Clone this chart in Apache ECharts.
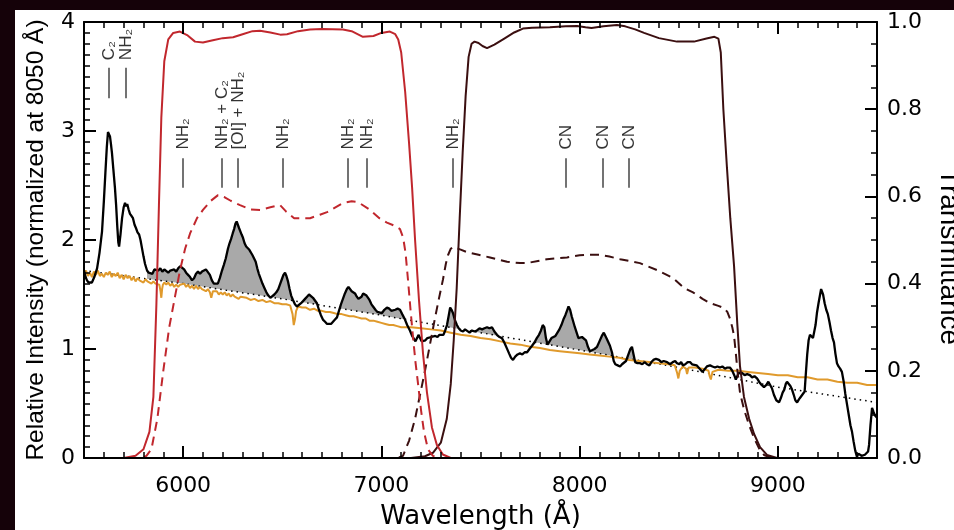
<!DOCTYPE html>
<html>
<head>
<meta charset="utf-8">
<script src="https://cdn.jsdelivr.net/npm/echarts@6/dist/echarts.min.js"></script>
<style>
html,body{margin:0;padding:0;background:#150209;width:954px;height:530px;overflow:hidden;}
#chart{position:absolute;left:15px;top:10px;width:939px;height:520px;background:#fff;}
</style>
</head>
<body>
<div id="chart"></div>
<script>
// comet spectrum, [wavelength (A), relative intensity]
const cometSpectrum = [
 [5500,1.72],[5508,1.66],[5515,1.63],[5523,1.61],[5530,1.60],[5540,1.61],[5552,1.66],[5566,1.74],[5578,1.88],[5591,2.08],
 [5600,2.35],[5608,2.62],[5615,2.85],[5621,2.99],[5626,3.00],[5631,2.95],[5636,2.88],[5641,2.80],[5648,2.65],[5656,2.48],
 [5662,2.32],[5668,2.12],[5673,1.98],[5677,1.94],[5684,2.05],[5692,2.20],[5700,2.30],[5707,2.34],[5712,2.31],[5718,2.33],
 [5725,2.28],[5732,2.24],[5740,2.22],[5747,2.20],[5755,2.14],[5762,2.11],[5770,2.07],[5778,2.05],[5785,2.00],[5792,1.93],
 [5800,1.85],[5808,1.78],[5818,1.72],[5826,1.70],[5835,1.71],[5845,1.69],[5855,1.73],[5865,1.74],[5875,1.72],[5885,1.74],
 [5895,1.71],[5905,1.73],[5915,1.72],[5925,1.70],[5935,1.72],[5945,1.71],[5955,1.73],[5965,1.71],[5975,1.74],[5985,1.76],
 [5994,1.77],[6005,1.73],[6015,1.70],[6025,1.68],[6035,1.66],[6045,1.63],[6055,1.65],[6065,1.69],[6075,1.71],[6085,1.69],
 [6095,1.71],[6105,1.70],[6115,1.73],[6125,1.72],[6135,1.68],[6145,1.63],[6155,1.60],[6165,1.59],[6175,1.60],[6185,1.65],
 [6196,1.72],[6205,1.77],[6215,1.83],[6226,1.92],[6234,1.97],[6242,2.01],[6250,2.06],[6257,2.10],[6264,2.15],[6270,2.17],
 [6276,2.14],[6282,2.11],[6289,2.10],[6295,2.05],[6302,2.02],[6310,1.97],[6318,1.94],[6326,1.95],[6334,1.91],[6342,1.90],
 [6350,1.86],[6358,1.83],[6366,1.80],[6374,1.74],[6382,1.69],[6390,1.65],[6400,1.60],[6410,1.56],[6420,1.52],[6430,1.49],
 [6440,1.47],[6450,1.48],[6460,1.50],[6470,1.52],[6480,1.55],[6490,1.60],[6498,1.64],[6506,1.68],[6514,1.70],[6521,1.67],
 [6529,1.62],[6537,1.55],[6545,1.49],[6554,1.45],[6564,1.41],[6574,1.39],[6584,1.40],[6595,1.42],[6605,1.43],[6615,1.46],
 [6625,1.48],[6635,1.50],[6645,1.49],[6655,1.47],[6665,1.47],[6675,1.42],[6685,1.36],[6695,1.31],[6705,1.27],[6716,1.25],
 [6726,1.23],[6736,1.24],[6746,1.23],[6756,1.25],[6766,1.27],[6776,1.29],[6786,1.35],[6796,1.41],[6806,1.46],[6816,1.51],
 [6826,1.55],[6834,1.57],[6842,1.56],[6850,1.53],[6858,1.54],[6867,1.51],[6876,1.48],[6884,1.46],[6892,1.45],[6900,1.48],
 [6908,1.51],[6917,1.52],[6925,1.49],[6932,1.48],[6940,1.45],[6950,1.41],[6958,1.39],[6970,1.36],[6980,1.34],[6990,1.35],
 [7003,1.33],[7015,1.36],[7028,1.38],[7040,1.37],[7050,1.35],[7059,1.34],[7070,1.36],[7082,1.37],[7094,1.36],[7105,1.32],
 [7119,1.27],[7130,1.22],[7144,1.17],[7155,1.12],[7165,1.09],[7172,1.07],[7180,1.10],[7187,1.13],[7195,1.10],[7203,1.07],
 [7212,1.06],[7222,1.08],[7232,1.10],[7242,1.09],[7252,1.11],[7262,1.10],[7272,1.12],[7283,1.11],[7293,1.13],[7303,1.12],
 [7313,1.13],[7322,1.17],[7331,1.22],[7340,1.31],[7347,1.38],[7354,1.36],[7361,1.33],[7370,1.27],[7381,1.22],[7390,1.19],
 [7400,1.17],[7412,1.16],[7422,1.18],[7432,1.17],[7445,1.15],[7457,1.17],[7470,1.16],[7482,1.17],[7495,1.19],[7508,1.18],
 [7520,1.19],[7533,1.20],[7545,1.19],[7558,1.20],[7570,1.16],[7583,1.13],[7596,1.11],[7608,1.10],[7620,1.06],[7632,1.01],
 [7644,0.96],[7654,0.92],[7664,0.90],[7675,0.93],[7687,0.95],[7699,0.96],[7711,0.95],[7723,0.97],[7735,0.97],[7747,1.00],
 [7760,1.03],[7772,1.06],[7784,1.10],[7795,1.13],[7805,1.17],[7814,1.22],[7822,1.20],[7830,1.10],[7838,1.04],[7848,1.07],
 [7858,1.10],[7868,1.11],[7878,1.12],[7888,1.15],[7898,1.18],[7908,1.22],[7918,1.27],[7928,1.31],[7936,1.35],[7944,1.39],
 [7952,1.36],[7960,1.30],[7968,1.25],[7976,1.20],[7985,1.15],[7994,1.10],[8002,1.09],[8012,1.11],[8022,1.12],[8032,1.08],
 [8042,1.02],[8052,0.98],[8062,0.99],[8075,1.00],[8088,1.02],[8100,1.07],[8112,1.12],[8122,1.15],[8130,1.14],[8138,1.09],
 [8145,1.08],[8153,1.03],[8163,0.97],[8172,0.89],[8180,0.86],[8192,0.85],[8204,0.84],[8214,0.86],[8224,0.87],[8234,0.89],
 [8246,0.95],[8256,1.00],[8264,1.02],[8272,0.95],[8280,0.88],[8292,0.87],[8304,0.87],[8316,0.86],[8328,0.88],[8340,0.86],
 [8352,0.85],[8362,0.88],[8372,0.90],[8385,0.91],[8400,0.90],[8412,0.88],[8424,0.89],[8441,0.88],[8456,0.86],[8470,0.88],
 [8482,0.89],[8491,0.87],[8503,0.86],[8512,0.88],[8521,0.85],[8533,0.86],[8545,0.88],[8557,0.88],[8567,0.86],[8577,0.87],
 [8590,0.85],[8600,0.83],[8610,0.81],[8620,0.79],[8630,0.80],[8642,0.84],[8658,0.85],[8670,0.84],[8683,0.83],[8695,0.84],
 [8708,0.83],[8720,0.84],[8733,0.82],[8745,0.83],[8758,0.83],[8770,0.80],[8780,0.76],[8788,0.72],[8794,0.73],[8802,0.78],
 [8809,0.79],[8820,0.78],[8832,0.76],[8845,0.77],[8859,0.76],[8870,0.74],[8882,0.75],[8895,0.73],[8905,0.70],[8918,0.67],
 [8930,0.65],[8942,0.67],[8952,0.70],[8960,0.69],[8970,0.64],[8980,0.58],[8992,0.53],[9006,0.51],[9015,0.55],[9024,0.60],
 [9033,0.63],[9040,0.68],[9046,0.70],[9055,0.69],[9063,0.66],[9071,0.63],[9080,0.58],[9088,0.53],[9097,0.51],[9107,0.54],
 [9115,0.56],[9125,0.57],[9135,0.61],[9142,0.80],[9148,0.95],[9155,1.08],[9162,1.13],[9170,1.12],[9177,1.10],[9182,1.11],
 [9190,1.22],[9197,1.33],[9205,1.42],[9213,1.50],[9218,1.55],[9222,1.56],[9228,1.50],[9236,1.42],[9244,1.36],[9252,1.32],
 [9260,1.25],[9268,1.17],[9276,1.10],[9283,1.06],[9290,0.96],[9298,0.87],[9306,0.84],[9314,0.82],[9323,0.79],[9332,0.70],
 [9340,0.59],[9349,0.49],[9358,0.39],[9366,0.30],[9374,0.24],[9382,0.15],[9390,0.07],[9399,0.01],[9406,0.04],[9414,0.05],
 [9422,0.02],[9430,0.03],[9439,0.03],[9447,0.02],[9455,0.06],[9460,0.12],[9467,0.30],[9475,0.46],[9483,0.42],[9490,0.39],
 [9500,0.37]
];

// scaled solar spectrum
const solarSpectrum = [
 [5500,1.69],[5510,1.72],[5520,1.67],[5530,1.70],[5540,1.66],[5550,1.71],[5560,1.68],[5570,1.72],[5580,1.67],[5590,1.69],
 [5600,1.66],[5610,1.70],[5620,1.68],[5630,1.71],[5640,1.66],[5650,1.69],[5660,1.67],[5670,1.70],[5680,1.65],[5690,1.68],
 [5700,1.64],[5710,1.68],[5720,1.65],[5730,1.67],[5740,1.63],[5750,1.66],[5760,1.62],[5770,1.65],[5780,1.63],[5790,1.64],
 [5800,1.61],[5810,1.64],[5820,1.62],[5830,1.63],[5840,1.60],[5850,1.62],[5860,1.60],[5870,1.61],[5880,1.59],[5886,1.53],
 [5890,1.47],[5894,1.55],[5898,1.59],[5905,1.61],[5915,1.59],[5925,1.61],[5935,1.58],[5945,1.60],[5955,1.57],[5965,1.59],
 [5975,1.57],[5985,1.59],[5995,1.58],[6005,1.60],[6015,1.57],[6025,1.59],[6035,1.56],[6045,1.58],[6055,1.55],[6065,1.58],
 [6075,1.55],[6085,1.57],[6095,1.55],[6105,1.56],[6115,1.53],[6125,1.55],[6135,1.52],[6142,1.47],[6150,1.53],[6160,1.52],
 [6170,1.53],[6180,1.50],[6190,1.52],[6200,1.50],[6210,1.52],[6220,1.49],[6230,1.51],[6240,1.48],[6250,1.50],[6260,1.48],
 [6270,1.49],[6280,1.46],[6290,1.48],[6300,1.47],[6320,1.47],[6340,1.45],[6360,1.46],[6380,1.44],[6400,1.45],[6420,1.43],
 [6440,1.44],[6460,1.42],[6480,1.42],[6500,1.41],[6520,1.41],[6540,1.40],[6552,1.32],[6558,1.22],[6564,1.27],[6570,1.35],
 [6580,1.39],[6600,1.38],[6620,1.38],[6640,1.36],[6660,1.37],[6680,1.35],[6700,1.35],[6720,1.34],[6740,1.34],[6760,1.33],
 [6780,1.32],[6800,1.32],[6820,1.31],[6840,1.30],[6860,1.30],[6880,1.29],[6900,1.28],[6920,1.28],[6940,1.26],[6960,1.26],
 [6980,1.25],[7000,1.24],[7020,1.23],[7040,1.22],[7060,1.22],[7080,1.21],[7100,1.20],[7150,1.20],[7200,1.19],[7250,1.18],
 [7300,1.17],[7350,1.15],[7400,1.13],[7450,1.12],[7500,1.10],[7550,1.09],[7600,1.07],[7650,1.05],[7700,1.04],[7750,1.02],
 [7800,1.01],[7850,0.99],[7900,0.98],[7950,0.97],[8000,0.96],[8050,0.95],[8100,0.94],[8150,0.93],[8200,0.92],[8250,0.90],
 [8300,0.89],[8350,0.88],[8400,0.87],[8450,0.86],[8480,0.85],[8492,0.78],[8498,0.73],[8505,0.80],[8520,0.84],[8536,0.82],
 [8542,0.77],[8550,0.83],[8580,0.83],[8620,0.82],[8650,0.80],[8656,0.75],[8662,0.72],[8670,0.79],[8700,0.81],[8750,0.80],
 [8800,0.80],[8850,0.79],[8900,0.78],[8950,0.77],[9000,0.76],[9050,0.76],[9100,0.74],[9150,0.74],[9200,0.72],[9250,0.72],
 [9300,0.70],[9350,0.69],[9400,0.69],[9450,0.67],[9500,0.67]
];

// dotted continuum
const continuum = [[5500,1.72],[5750,1.66],[6000,1.60],[6500,1.46],[7000,1.31],[7500,1.15],[8000,0.99],[8500,0.83],[9000,0.65],[9500,0.51]];
const fillRange = [5818, 8330];
const coverRange = [5750, 8500];

// filter transmittance (right axis)
const filterA = [
 [5500,0],[5700,0],[5760,0.005],[5800,0.02],[5830,0.06],[5850,0.14],[5865,0.35],[5878,0.58],[5890,0.78],[5905,0.91],
 [5925,0.96],[5950,0.975],[5984,0.978],[6020,0.97],[6060,0.955],[6100,0.953],[6150,0.958],[6200,0.963],[6252,0.965],[6300,0.972],
 [6350,0.979],[6388,0.980],[6440,0.976],[6490,0.971],[6524,0.972],[6580,0.979],[6640,0.983],[6700,0.984],[6806,0.983],[6850,0.979],
 [6907,0.966],[6960,0.968],[7000,0.975],[7043,0.978],[7070,0.972],[7085,0.96],[7100,0.93],[7120,0.84],[7140,0.72],[7155,0.62],
 [7170,0.50],[7190,0.36],[7210,0.24],[7230,0.15],[7255,0.07],[7280,0.03],[7310,0.008],[7350,0],[9500,0]
];
const filterAeff = [
 [5500,0],[5790,0],[5815,0.005],[5840,0.02],[5870,0.09],[5900,0.20],[5930,0.30],[5959,0.37],[5984,0.43],[6010,0.48],
 [6035,0.515],[6070,0.55],[6100,0.569],[6140,0.59],[6176,0.603],[6210,0.598],[6240,0.59],[6287,0.580],[6340,0.570],[6388,0.569],
 [6440,0.575],[6489,0.58],[6520,0.565],[6560,0.55],[6640,0.55],[6690,0.558],[6726,0.564],[6806,0.585],[6850,0.589],[6882,0.587],
 [6943,0.569],[6990,0.55],[7028,0.54],[7070,0.532],[7094,0.525],[7110,0.505],[7122,0.47],[7134,0.41],[7147,0.34],[7159,0.28],
 [7172,0.22],[7185,0.17],[7200,0.11],[7215,0.06],[7235,0.02],[7260,0.005],[7290,0],[9500,0]
];
const filterB = [
 [5500,0],[7150,0],[7220,0.004],[7260,0.012],[7300,0.035],[7330,0.09],[7350,0.17],[7365,0.27],[7380,0.39],[7395,0.55],
 [7410,0.70],[7425,0.83],[7440,0.92],[7455,0.95],[7470,0.955],[7490,0.952],[7510,0.945],[7533,0.94],[7570,0.948],[7620,0.962],
 [7670,0.976],[7714,0.985],[7760,0.987],[7850,0.988],[7930,0.99],[7987,0.991],[8030,0.988],[8060,0.986],[8120,0.99],[8188,0.993],
 [8230,0.99],[8280,0.983],[8325,0.975],[8400,0.963],[8491,0.955],[8577,0.955],[8640,0.962],[8680,0.966],[8700,0.962],[8712,0.93],
 [8725,0.80],[8743,0.667],[8760,0.55],[8779,0.44],[8795,0.31],[8809,0.21],[8829,0.14],[8855,0.09],[8880,0.055],[8910,0.025],
 [8945,0.007],[8996,0],[9500,0]
];
const filterBeff = [
 [5500,0],[7080,0],[7109,0.005],[7140,0.04],[7170,0.09],[7195,0.145],[7220,0.20],[7245,0.26],[7270,0.32],[7290,0.365],
 [7311,0.41],[7325,0.445],[7336,0.465],[7350,0.48],[7361,0.484],[7380,0.481],[7400,0.478],[7432,0.472],[7490,0.466],[7548,0.46],
 [7634,0.45],[7700,0.447],[7734,0.447],[7790,0.452],[7835,0.456],[7936,0.46],[8000,0.465],[8037,0.466],[8103,0.466],[8150,0.462],
 [8204,0.456],[8304,0.447],[8390,0.431],[8471,0.413],[8527,0.39],[8572,0.38],[8620,0.365],[8658,0.355],[8700,0.349],[8728,0.344],
 [8745,0.335],[8758,0.32],[8770,0.30],[8779,0.28],[8788,0.24],[8796,0.20],[8809,0.15],[8829,0.112],[8855,0.075],[8880,0.046],
 [8905,0.022],[8930,0.007],[8970,0],[9500,0]
];

// emission line identifications
const lineNames = ['C₂','NH₂','NH₂','NH₂ + C₂','[OI] + NH₂','NH₂','NH₂','NH₂','NH₂','CN','CN','CN'];
const lineWaves = [5626,5712,5999,6196,6277,6504,6832,6927,7361,7931,8118,8249];
const lineRow = [0,0,1,1,1,1,1,1,1,1,1,1];
const rowText = [3.65, 2.83];
const rowTickTop = [3.58, 2.75];
const rowTickBottom = [3.30, 2.48];

const majorWaves = [6000,7000,8000,9000];

const tickFont = 'DejaVu Sans';
const nameFont = 'Liberation Sans';
const black = '#000';
const red = '#c1272d';
const brown = '#3b0f10';

const chart = echarts.init(document.getElementById('chart'));

const xBase = {
  type: 'value', min: 5500, max: 9500, z: 10,
  splitLine: { show: false },
  axisLabel: { show: false }
};
const majorTick = { show: true, inside: true, length: 12, lineStyle: { color: black, width: 2 }, customValues: majorWaves };
const minorTickX = { show: true, inside: true, length: 6, lineStyle: { color: black, width: 1.5 } };

chart.setOption({
  animation: false,
  grid: { left: 69, right: 77, top: 12, bottom: 72, outerBoundsMode: 'none' },
  xAxis: [
    Object.assign({}, xBase, {
      position: 'bottom',
      axisLine: { onZero: false, lineStyle: { color: black, width: 2 } },
      axisTick: majorTick,
      axisLabel: { show: true, customValues: majorWaves, formatter: v => String(v), color: black, fontFamily: tickFont, fontSize: 22, margin: 17 },
      name: 'Wavelength (Å)', nameLocation: 'middle', nameGap: 46,
      nameTextStyle: { color: black, fontFamily: tickFont, fontSize: 26 }
    }),
    Object.assign({}, xBase, {
      position: 'top',
      axisLine: { onZero: false, lineStyle: { color: black, width: 2 } },
      axisTick: majorTick
    }),
    // declared positions flip when already used: this one ends up on top
    Object.assign({}, xBase, {
      position: 'bottom', interval: 100,
      axisLine: { show: false, onZero: false },
      axisTick: minorTickX
    }),
    // and this one at the bottom
    Object.assign({}, xBase, {
      position: 'top', interval: 100,
      axisLine: { show: false, onZero: false },
      axisTick: minorTickX
    })
  ],
  yAxis: [
    {
      type: 'value', position: 'left', min: 0, max: 4, interval: 1, z: 10,
      splitLine: { show: false },
      axisLine: { show: true, lineStyle: { color: black, width: 2 } },
      axisTick: { show: true, inside: true, length: 12, lineStyle: { color: black, width: 2 } },
      minorTick: { show: true, splitNumber: 10, length: 6, lineStyle: { color: black, width: 1.5 } },
      axisLabel: { color: black, fontFamily: tickFont, fontSize: 22, margin: 9 },
      name: 'Relative Intensity (normalized at 8050 Å)', nameLocation: 'middle', nameRotate: 90, nameGap: 35,
      nameTextStyle: { color: black, fontFamily: nameFont, fontSize: 24.5 }
    },
    {
      type: 'value', position: 'right', min: 0, max: 1, interval: 0.2, z: 10,
      splitLine: { show: false },
      axisLine: { show: true, lineStyle: { color: black, width: 2 } },
      axisTick: { show: true, inside: true, length: 12, lineStyle: { color: black, width: 2 } },
      minorTick: { show: true, splitNumber: 4, length: 6, lineStyle: { color: black, width: 1.5 } },
      axisLabel: { color: black, fontFamily: tickFont, fontSize: 22, margin: 10, formatter: v => v.toFixed(1) }
    }
  ],
  graphic: [{
    type: 'text', x: 934, y: 247, rotation: -Math.PI / 2,
    style: { text: 'Transmittance', font: '28px "Liberation Sans"', fill: black, align: 'center', verticalAlign: 'middle' }
  }],
  series: [
    {
      // gray excess over the continuum: area under the spectrum, partly covered by the white band below
      type: 'line', symbol: 'none', silent: true, z: 1,
      data: cometSpectrum.filter(p => p[0] >= fillRange[0] && p[0] <= fillRange[1]),
      lineStyle: { opacity: 0 },
      areaStyle: { color: '#a9a9a9', opacity: 1, origin: 0.5 }
    },
    {
      // white band under the continuum hides the gray where the spectrum is below it
      type: 'line', symbol: 'none', silent: true, z: 1,
      data: continuum.filter(p => p[0] >= coverRange[0] && p[0] <= coverRange[1]),
      lineStyle: { opacity: 0 },
      areaStyle: { color: '#fff', opacity: 1, origin: 0.3 }
    },
    {
      type: 'line', symbol: 'none', silent: true, data: continuum,
      lineStyle: { color: black, width: 1.5, type: [1.5, 4] }
    },
    {
      type: 'line', symbol: 'none', data: solarSpectrum,
      lineStyle: { color: '#e09a2c', width: 2 }
    },
    {
      type: 'line', symbol: 'none', data: cometSpectrum,
      lineStyle: { color: black, width: 2.3 }
    },
    { type: 'line', symbol: 'none', yAxisIndex: 1, data: filterB, lineStyle: { color: brown, width: 2 } },
    { type: 'line', symbol: 'none', yAxisIndex: 1, data: filterBeff, lineStyle: { color: brown, width: 2, type: [9, 6] } },
    { type: 'line', symbol: 'none', yAxisIndex: 1, data: filterAeff, lineStyle: { color: red, width: 2, type: [9, 6] } },
    { type: 'line', symbol: 'none', yAxisIndex: 1, data: filterA, lineStyle: { color: red, width: 2 } },
    {
      type: 'scatter', symbolSize: 0, silent: true,
      data: lineNames.map((n, i) => ({ value: [lineWaves[i], rowText[lineRow[i]]], name: n })),
      label: {
        show: true, position: 'top', distance: 0, rotate: 90, align: 'left', verticalAlign: 'middle',
        formatter: p => p.name, color: black, fontFamily: nameFont, fontSize: 17
      },
      markLine: {
        silent: true, symbol: ['none', 'none'], label: { show: false },
        lineStyle: { color: '#444', width: 1.5, type: 'solid' },
        data: lineWaves.map((w, i) => [
          { coord: [w, rowTickTop[lineRow[i]]] },
          { coord: [w, rowTickBottom[lineRow[i]]] }
        ])
      }
    }
  ]
});
</script>
</body>
</html>
